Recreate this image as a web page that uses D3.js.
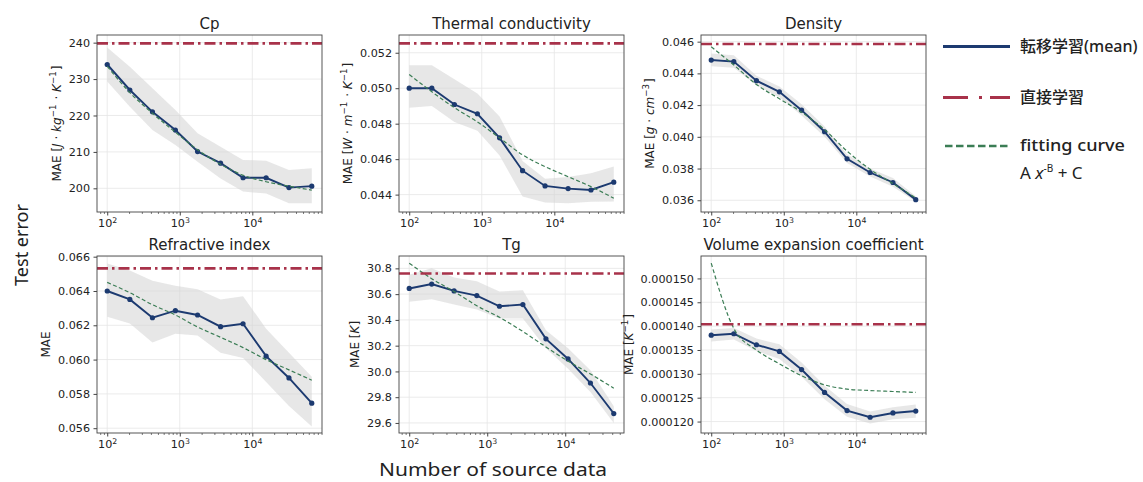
<!DOCTYPE html>
<html lang="ja">

<head>
    <meta charset="UTF-8" />
    <title>Test error vs number of source data</title>
    <script src="https://d3js.org/d3.v7.min.js"></script>
    <style>
        body { margin: 0; background: #fff; }
        svg text { font-family: "DejaVu Sans", sans-serif; fill: #222; }
        .ov { font-family: "Noto Sans", "Noto Sans CJK JP", sans-serif; }
    </style>
</head>

<body>
    <script>

        // number of source data (x values)
        var sizesMain = [100, 205, 420, 870, 1760, 3650, 7450, 15500, 32000, 66000];
        var sizesTg = [100, 194, 376, 735, 1435, 2865, 5660, 10870, 21040, 41900];

        // Cp
        var cpMean = [234.0, 227.0, 221.0, 216.0, 210.1, 206.9, 202.9, 202.9, 200.2, 200.6];
        var cpLo = [229.3, 222.4, 216.0, 211.9, 207.3, 202.7, 199.1, 198.6, 195.9, 195.9];
        var cpHi = [238.7, 233.4, 227.5, 221.5, 215.1, 211.4, 207.8, 207.6, 205.0, 205.5];
        var cpFit = [233.5, 226.3, 220.6, 215.4, 210.6, 206.6, 203.6, 201.8, 200.6, 199.5];
        var cpDirect = 239.8;
        var cpTicks = [200, 210, 220, 230, 240];

        // Thermal conductivity
        var tcMean = [0.0500, 0.0500, 0.04908, 0.04856, 0.04720, 0.04535, 0.04449, 0.04434, 0.04426, 0.04470];
        var tcLo = [0.0489, 0.0490, 0.0481, 0.0476, 0.0462, 0.0439, 0.04355, 0.04352, 0.0436, 0.04361];
        var tcHi = [0.0513, 0.0513, 0.0505, 0.0497, 0.0484, 0.0459, 0.0449, 0.0450, 0.0452, 0.04558];
        var tcFit = [0.05077, 0.0498, 0.0489, 0.0481, 0.0472, 0.04624, 0.04558, 0.04501, 0.04445, 0.0438];
        var tcDirect = 0.05253;
        var tcTicks = [0.044, 0.046, 0.048, 0.050, 0.052];

        // Density
        var dnMean = [0.04484, 0.04474, 0.04354, 0.04284, 0.04168, 0.04032, 0.03861, 0.03775, 0.03712, 0.03604];
        var dnLo = [0.04445, 0.04435, 0.04325, 0.04250, 0.04135, 0.04000, 0.03835, 0.03750, 0.03685, 0.0359];
        var dnHi = [0.04525, 0.04515, 0.04385, 0.04318, 0.04205, 0.04065, 0.0389, 0.0380, 0.0374, 0.03625];
        var dnFit = [0.04568, 0.04453, 0.04330, 0.04240, 0.04155, 0.04045, 0.03910, 0.03795, 0.03705, 0.03615];
        var dnDirect = 0.04585;
        var dnTicks = [0.036, 0.038, 0.040, 0.042, 0.044, 0.046];

        // Refractive index
        var riMean = [0.06400, 0.06351, 0.06244, 0.06285, 0.06260, 0.06192, 0.06209, 0.06020, 0.05893, 0.05746];
        var riLo = [0.0625, 0.0621, 0.0610, 0.0615, 0.0614, 0.0604, 0.0601, 0.0587, 0.0573, 0.0561];
        var riHi = [0.0656, 0.0652, 0.0646, 0.0643, 0.0641, 0.0635, 0.0637, 0.0618, 0.0604, 0.0590];
        var riFit = [0.0645, 0.0639, 0.0632, 0.0626, 0.0619, 0.0613, 0.0607, 0.0600, 0.0594, 0.0588];
        var riDirect = 0.06532;
        var riTicks = [0.056, 0.058, 0.060, 0.062, 0.064, 0.066];

        // Tg
        var tgMean = [30.644, 30.678, 30.625, 30.589, 30.506, 30.519, 30.253, 30.097, 29.910, 29.673];
        var tgLo = [30.54, 30.56, 30.52, 30.48, 30.41, 30.41, 30.18, 30.02, 29.84, 29.60];
        var tgHi = [30.75, 30.80, 30.73, 30.70, 30.62, 30.63, 30.32, 30.18, 30.01, 29.73];
        var tgFit = [30.84, 30.72, 30.62, 30.51, 30.42, 30.31, 30.19, 30.08, 29.98, 29.87];
        var tgDirect = 30.76;
        var tgTicks = [29.6, 29.8, 30.0, 30.2, 30.4, 30.6, 30.8];

        // Volume expansion coefficient
        var veMean = [0.0001381, 0.0001384, 0.0001361, 0.0001347, 0.0001309, 0.0001261, 0.0001223, 0.0001209, 0.0001218, 0.0001222];
        var veLo = [0.0001368, 0.0001372, 0.0001348, 0.0001331, 0.0001294, 0.0001247, 0.0001210, 0.0001196, 0.0001205, 0.0001208];
        var veHi = [0.0001393, 0.0001396, 0.0001374, 0.0001362, 0.0001324, 0.0001275, 0.0001237, 0.0001221, 0.0001230, 0.0001236];
        var veFit = [0.0001532, 0.0001395, 0.0001350, 0.0001321, 0.0001296, 0.0001277, 0.0001268, 0.0001265, 0.0001263, 0.0001261];
        var veDirect = 0.0001404;
        var veTicks = [0.000120, 0.000125, 0.000130, 0.000135, 0.000140, 0.000145, 0.000150];

        var xMajor = [100, 1000, 10000];

        var panels = [
            { title: "Cp", col: 0, row: 0, x: sizesMain, mean: cpMean, lo: cpLo, hi: cpHi, fit: cpFit, direct: cpDirect,
              ticks: cpTicks, fmt: "d", yDomain: [193.5, 242.1],
              ylabel: ["MAE [", { i: "J" }, " · ", { i: "kg" }, { s: "−1" }, " · ", { i: "K" }, { s: "−1" }, "]"] },
            { title: "Thermal conductivity", col: 1, row: 0, x: sizesMain, mean: tcMean, lo: tcLo, hi: tcHi, fit: tcFit, direct: tcDirect,
              ticks: tcTicks, fmt: ".3f", yDomain: [0.04302, 0.05300],
              ylabel: ["MAE [", { i: "W" }, " · ", { i: "m" }, { s: "−1" }, " · ", { i: "K" }, { s: "−1" }, "]"] },
            { title: "Density", col: 2, row: 0, x: sizesMain, mean: dnMean, lo: dnLo, hi: dnHi, fit: dnFit, direct: dnDirect,
              ticks: dnTicks, fmt: ".3f", yDomain: [0.03526, 0.04642],
              ylabel: ["MAE [", { i: "g" }, " · ", { i: "cm" }, { s: "−3" }, "]"] },
            { title: "Refractive index", col: 0, row: 1, x: sizesMain, mean: riMean, lo: riLo, hi: riHi, fit: riFit, direct: riDirect,
              ticks: riTicks, fmt: ".3f", yDomain: [0.05572, 0.06604],
              ylabel: ["MAE"] },
            { title: "Tg", col: 1, row: 1, x: sizesTg, mean: tgMean, lo: tgLo, hi: tgHi, fit: tgFit, direct: tgDirect,
              ticks: tgTicks, fmt: ".1f", yDomain: [29.522, 30.896],
              ylabel: ["MAE [", { i: "K" }, "]"] },
            { title: "Volume expansion coefficient", col: 2, row: 1, x: sizesMain, mean: veMean, lo: veLo, hi: veHi, fit: veFit, direct: veDirect,
              ticks: veTicks, fmt: ".6f", yDomain: [0.0001176, 0.0001547],
              ylabel: ["MAE [", { i: "K" }, { s: "−1" }, "]"] }
        ];

        // layout
        var W = 1143, H = 482;
        var cols = [97, 399, 701], rows = [35, 256];
        var pw = 225, ph = 177;

        var navy = "#1c3a70", red = "#a8324a", green = "#3b7d55";

        var svg = d3.select("body").append("svg")
            .attr("width", W)
            .attr("height", H);

        function labelParts(text, parts, size) {
            parts.forEach(function (p) {
                if (typeof p === "string") text.append("tspan").text(p);
                else if (p.i) text.append("tspan").attr("font-style", "italic").text(p.i);
                else if (p.s) {
                    text.append("tspan").attr("dy", -size * 0.42).attr("font-size", size * 0.72).text(p.s);
                    text.append("tspan").attr("dy", size * 0.42).text("\u200a");
                }
            });
        }

        panels.forEach(function (p, k) {
            var left = cols[p.col], top = rows[p.row];
            var lx = Math.log10(d3.min(p.x)), hx = Math.log10(d3.max(p.x));
            var m = (hx - lx) * 0.05;

            var x = d3.scaleLog()
                .domain([Math.pow(10, lx - m), Math.pow(10, hx + m)])
                .range([left, left + pw]);
            var y = d3.scaleLinear()
                .domain(p.yDomain)
                .range([top + ph, top]);

            var g = svg.append("g");

            g.append("clipPath").attr("id", "clip" + k)
                .append("rect")
                .attr("x", left).attr("y", top).attr("width", pw).attr("height", ph);

            // grid
            g.selectAll(".gy")
                .data(p.ticks)
                .enter()
                .append("line")
                .attr("x1", left).attr("x2", left + pw)
                .attr("y1", function (d) { return y(d); })
                .attr("y2", function (d) { return y(d); })
                .attr("stroke", "#e6e6e6").attr("stroke-width", 0.8);
            g.selectAll(".gx")
                .data(xMajor)
                .enter()
                .append("line")
                .attr("x1", function (d) { return x(d); })
                .attr("x2", function (d) { return x(d); })
                .attr("y1", top).attr("y2", top + ph)
                .attr("stroke", "#e6e6e6").attr("stroke-width", 0.8);

            var rowsData = p.x.map(function (v, i) {
                return { x: v, mean: p.mean[i], lo: p.lo[i], hi: p.hi[i], fit: p.fit[i] };
            });

            var plot = g.append("g").attr("clip-path", "url(#clip" + k + ")");

            // spread band
            plot.append("path")
                .datum(rowsData)
                .attr("fill", "#d4d4d4")
                .attr("fill-opacity", 0.55)
                .attr("d", d3.area()
                    .x(function (d) { return x(d.x); })
                    .y0(function (d) { return y(d.lo); })
                    .y1(function (d) { return y(d.hi); }));

            // mean line
            plot.append("path")
                .datum(rowsData)
                .attr("fill", "none")
                .attr("stroke", navy)
                .attr("stroke-width", 1.9)
                .attr("d", d3.line()
                    .x(function (d) { return x(d.x); })
                    .y(function (d) { return y(d.mean); }));

            plot.selectAll(".dot")
                .data(rowsData)
                .enter()
                .append("circle")
                .attr("fill", navy)
                .attr("cx", function (d) { return x(d.x); })
                .attr("cy", function (d) { return y(d.mean); })
                .attr("r", 2.6);

            // fitting curve
            plot.append("path")
                .datum(rowsData)
                .attr("fill", "none")
                .attr("stroke", green)
                .attr("stroke-width", 1.2)
                .attr("stroke-dasharray", "4,2.4")
                .attr("d", d3.line()
                    .curve(d3.curveMonotoneX)
                    .x(function (d) { return x(d.x); })
                    .y(function (d) { return y(d.fit); }));

            // direct learning
            plot.append("line")
                .attr("x1", left).attr("x2", left + pw)
                .attr("y1", y(p.direct)).attr("y2", y(p.direct))
                .attr("stroke", red)
                .attr("stroke-width", 2.6)
                .attr("stroke-dasharray", "11,4,2.5,4");

            // frame
            g.append("rect")
                .attr("x", left).attr("y", top).attr("width", pw).attr("height", ph)
                .attr("fill", "none").attr("stroke", "#444").attr("stroke-width", 0.9);

            // y axis
            var ya = g.append("g")
                .attr("transform", "translate(" + left + ",0)")
                .call(d3.axisLeft(y).tickValues(p.ticks).tickSize(3.5).tickPadding(3.5).tickFormat(d3.format(p.fmt)));
            ya.select(".domain").remove();
            ya.selectAll("line").attr("stroke", "#444");
            ya.selectAll("text").attr("font-size", 11.2).attr("font-family", "DejaVu Sans").attr("fill", "#222");

            // x axis, minor ticks
            var minor = [];
            [10, 100, 1000, 10000].forEach(function (dec) {
                for (var j = 2; j <= 9; j++) {
                    var v = dec * j;
                    if (v > x.domain()[0] && v < x.domain()[1]) minor.push(v);
                }
            });
            var xm = g.append("g")
                .attr("transform", "translate(0," + (top + ph) + ")")
                .call(d3.axisBottom(x).tickValues(minor).tickSize(2).tickFormat(""));
            xm.select(".domain").remove();
            xm.selectAll("line").attr("stroke", "#444").attr("stroke-width", 0.7);

            var xa = g.append("g")
                .attr("transform", "translate(0," + (top + ph) + ")")
                .call(d3.axisBottom(x).tickValues(xMajor).tickSize(3.5).tickPadding(3.5));
            xa.select(".domain").remove();
            xa.selectAll("line").attr("stroke", "#444");
            xa.selectAll("text")
                .attr("font-size", 11.2).attr("font-family", "DejaVu Sans").attr("fill", "#222")
                .text(null)
                .each(function (d) {
                    var t = d3.select(this);
                    t.append("tspan").text("10");
                    t.append("tspan").attr("dy", "-0.45em").attr("font-size", 7.8).text(Math.round(Math.log10(d)));
                });

            // title
            g.append("text")
                .attr("x", left + pw / 2)
                .attr("y", top - 6)
                .attr("text-anchor", "middle")
                .attr("font-size", 15)
                .attr("fill", "#111")
                .text(p.title);

            // y label, placed left of the tick labels (bbox is in the axis group's own coords)
            var bb = ya.node().getBBox();
            var lxp = left + bb.x - 8, lyp = top + ph / 2;
            var yl = g.append("text")
                .attr("text-anchor", "middle")
                .attr("font-size", 12)
                .attr("fill", "#111")
                .attr("transform", "translate(" + lxp + "," + lyp + ") rotate(-90)");
            labelParts(yl, p.ylabel, 12);
        });

        // overall axis titles
        svg.append("text")
            .attr("class", "ov")
            .attr("text-anchor", "middle")
            .attr("transform", "translate(28,245) rotate(-90)")
            .attr("font-size", 18)
            .attr("fill", "#333")
            .attr("textLength", 82)
            .attr("lengthAdjust", "spacingAndGlyphs")
            .text("Test error");

        svg.append("text")
            .attr("class", "ov")
            .attr("text-anchor", "middle")
            .attr("x", 493)
            .attr("y", 476)
            .attr("font-size", 18)
            .attr("fill", "#333")
            .attr("textLength", 228)
            .attr("lengthAdjust", "spacingAndGlyphs")
            .text("Number of source data");

        // legend
        var lg = svg.append("g");
        lg.append("line")
            .attr("x1", 943).attr("x2", 1010).attr("y1", 46.5).attr("y2", 46.5)
            .attr("stroke", navy).attr("stroke-width", 3);
        lg.append("text")
            .attr("class", "ov")
            .attr("x", 1020).attr("y", 52)
            .attr("font-size", 16).attr("font-weight", 500)
            .attr("fill", "#23407a")
            .text("転移学習(mean)");

        lg.append("line")
            .attr("x1", 943).attr("x2", 1010).attr("y1", 97.5).attr("y2", 97.5)
            .attr("stroke", red).attr("stroke-width", 3)
            .attr("stroke-dasharray", "25,11,3,8");
        lg.append("text")
            .attr("class", "ov")
            .attr("x", 1020).attr("y", 103)
            .attr("font-size", 16).attr("font-weight", 500)
            .attr("fill", "#a23a4c")
            .text("直接学習");

        lg.append("line")
            .attr("x1", 945).attr("x2", 1010).attr("y1", 146).attr("y2", 146)
            .attr("stroke", green).attr("stroke-width", 2.6)
            .attr("stroke-dasharray", "7.5,3.5");
        lg.append("text")
            .attr("class", "ov")
            .attr("x", 1020).attr("y", 151)
            .attr("font-size", 17).attr("font-weight", 500)
            .attr("fill", "#3b7d5d")
            .attr("textLength", 105)
            .attr("lengthAdjust", "spacingAndGlyphs")
            .text("fitting curve");

        var fx = lg.append("text")
            .attr("class", "ov")
            .attr("x", 1020).attr("y", 179)
            .attr("font-size", 17)
            .attr("fill", "#3b7d5d");
        fx.append("tspan").text("A ");
        fx.append("tspan").attr("font-style", "italic").text("x");
        fx.append("tspan").attr("dy", -7).attr("font-size", 10).text("-B");
        fx.append("tspan").attr("dy", 7).text(" + C");

    </script>
</body>

</html>
